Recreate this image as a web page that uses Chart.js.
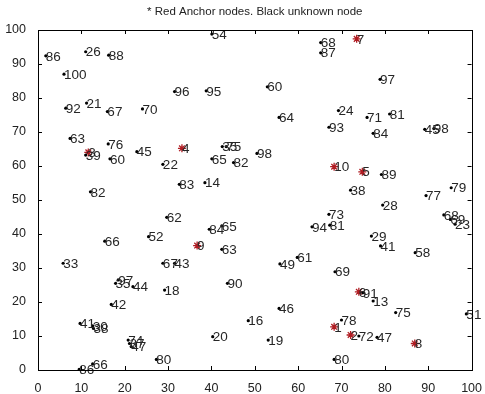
<!DOCTYPE html>
<html>
<head>
<meta charset="utf-8">
<script src="https://cdn.jsdelivr.net/npm/chart.js@4.4.0/dist/chart.umd.min.js"></script>
<style>
  html, body { margin: 0; padding: 0; background: #fff; }
  #wrap { width: 485px; height: 394px; }
</style>
</head>
<body>
<div id="wrap"><canvas id="nodes"></canvas></div>
<script>
// unknown nodes (black)
var nodeLabels = ['86','26','88','100','92','21','67','70','63','54','96','95','60','64','68','87','97','24','71','81',
  '93','84','45','98','76','39','60','45','22','82','62','66','52','35','75','65','82','98','83','14',
  '84','65','63','89','38','77','79','28','73','81','94','68','69','23','29','41','33','67','43','97',
  '35','44','18','42','41','30','38','74','37','47','66','86','80','49','61','90','46','16','20','19',
  '58','69','91','13','75','51','78','72','47','80'];
var nodeX = [1.8,11.0,16.3,6.0,6.4,11.2,16.0,24.1,7.4,40.1,31.5,38.8,52.9,55.6,65.2,65.2,78.9,69.3,75.9,81.1,
  67.1,77.3,89.2,91.3,16.2,11.0,16.6,22.8,28.8,12.1,29.7,15.4,25.5,42.5,43.4,40.1,45.1,50.5,32.6,38.5,
  39.5,42.4,42.4,79.2,72.1,89.5,95.3,79.5,67.1,67.3,63.2,93.6,95.1,96.2,76.9,79.0,5.8,28.8,31.5,18.5,
  17.9,21.9,29.2,16.9,9.7,12.6,12.8,20.8,21.1,21.5,12.6,9.5,27.3,55.8,59.8,43.7,55.6,48.5,40.3,53.1,
  87.0,68.5,74.9,77.3,82.5,98.8,70.0,74.0,78.2,68.3];
var nodeY = [92.4,93.6,92.6,87.0,77.0,78.5,76.0,76.8,68.1,98.8,81.9,82.1,83.3,74.3,96.3,93.3,85.5,76.3,74.3,75.3,
  71.4,69.6,70.8,71.0,66.5,63.2,62.1,64.2,60.5,52.4,44.9,37.9,39.2,65.7,65.7,62.1,61.0,63.7,54.6,55.1,
  41.4,42.4,35.5,57.5,52.9,51.3,53.6,48.5,45.8,42.6,42.1,45.6,44.3,42.9,39.4,36.5,31.4,31.4,31.4,26.5,
  25.5,24.5,23.5,19.3,13.7,13.0,12.2,8.8,7.8,6.9,1.8,0.2,3.1,31.2,33.1,25.5,18.1,14.5,9.8,8.8,
  34.5,28.9,22.7,20.3,16.9,16.5,14.7,10.0,9.6,3.1];

// anchor nodes (red)
var anchorLabels = ['1','2','3','4','5','6','7','8','9','10'];
var anchorX = [68.3,72.1,11.6,33.2,74.8,74.0,73.5,86.9,36.7,68.3];
var anchorY = [12.7,10.3,64.0,65.2,58.3,23.0,97.4,7.8,36.6,59.8];

var tickVals = [0,10,20,30,40,50,60,70,80,90,100];

function pts(xs, ys) {
  var out = [];
  for (var i = 0; i < xs.length; i++) out.push({x: xs[i], y: ys[i]});
  return out;
}

// labels next to points, box, inside ticks and title
var matlabLook = {
  id: 'matlabLook',
  afterDatasetsDraw: function(chart) {
    var ctx = chart.ctx;
    var xs = chart.scales.x, ys = chart.scales.y;
    var a = chart.chartArea;
    ctx.save();
    ctx.font = '13.5px "Liberation Sans", Arial, sans-serif';
    ctx.fillStyle = '#262626';
    ctx.textAlign = 'left';
    ctx.textBaseline = 'middle';
    chart.data.datasets.forEach(function(ds) {
      ds.data.forEach(function(p, i) {
        ctx.fillText(ds.names[i], xs.getPixelForValue(p.x), ys.getPixelForValue(p.y) + 1);
      });
    });
    // box
    ctx.strokeStyle = '#000';
    ctx.lineWidth = 1;
    ctx.strokeRect(Math.round(a.left) + 0.5, Math.round(a.top) + 0.5,
      Math.round(a.right - a.left), Math.round(a.bottom - a.top));
    // ticks pointing inward
    tickVals.forEach(function(v) {
      var px = Math.round(xs.getPixelForValue(v)) + 0.5;
      var py = Math.round(ys.getPixelForValue(v)) + 0.5;
      ctx.beginPath();
      ctx.moveTo(px, a.bottom); ctx.lineTo(px, a.bottom - 4);
      ctx.moveTo(px, a.top); ctx.lineTo(px, a.top + 4);
      ctx.moveTo(a.left, py); ctx.lineTo(a.left + 4, py);
      ctx.moveTo(a.right, py); ctx.lineTo(a.right - 4, py);
      ctx.stroke();
    });
    // title
    ctx.font = '11.5px "Liberation Sans", Arial, sans-serif';
    ctx.textAlign = 'center';
    ctx.fillStyle = '#222';
    ctx.fillText('* Red Anchor nodes. Black unknown node', (a.left + a.right) / 2, 12);
    ctx.restore();
  }
};

new Chart(document.getElementById('nodes'), {
  type: 'scatter',
  data: {
    datasets: [
      {
        label: 'unknown',
        names: nodeLabels,
        data: pts(nodeX, nodeY),
        pointStyle: 'circle',
        pointRadius: 1.6,
        backgroundColor: '#000',
        borderColor: '#000',
        borderWidth: 0
      },
      {
        label: 'anchor',
        names: anchorLabels,
        data: pts(anchorX, anchorY),
        pointStyle: 'star',
        pointRadius: 4,
        backgroundColor: '#b01c22',
        borderColor: '#b01c22',
        borderWidth: 1.3
      }
    ]
  },
  options: {
    responsive: true,
    maintainAspectRatio: false,
    animation: false,
    events: [],
    layout: { padding: { left: 0, right: 12, top: 30, bottom: 0 } },
    plugins: { legend: { display: false }, tooltip: { enabled: false } },
    scales: {
      x: {
        type: 'linear', min: 0, max: 100,
        afterFit: function(s) { s.height = 24; },
        afterBuildTicks: function(s) { s.ticks = tickVals.map(function(v) { return {value: v}; }); },
        grid: { display: false },
        border: { display: false },
        ticks: { color: '#222', padding: 3, maxRotation: 0, font: { size: 12.5, family: '"Liberation Sans", Arial, sans-serif' } }
      },
      y: {
        type: 'linear', min: 0, max: 100,
        afterFit: function(s) { s.width = 38; },
        afterBuildTicks: function(s) { s.ticks = tickVals.map(function(v) { return {value: v}; }); },
        grid: { display: false },
        border: { display: false },
        ticks: { color: '#222', padding: 4, font: { size: 12.5, family: '"Liberation Sans", Arial, sans-serif' } }
      }
    }
  },
  plugins: [matlabLook]
});
</script>
</body>
</html>
